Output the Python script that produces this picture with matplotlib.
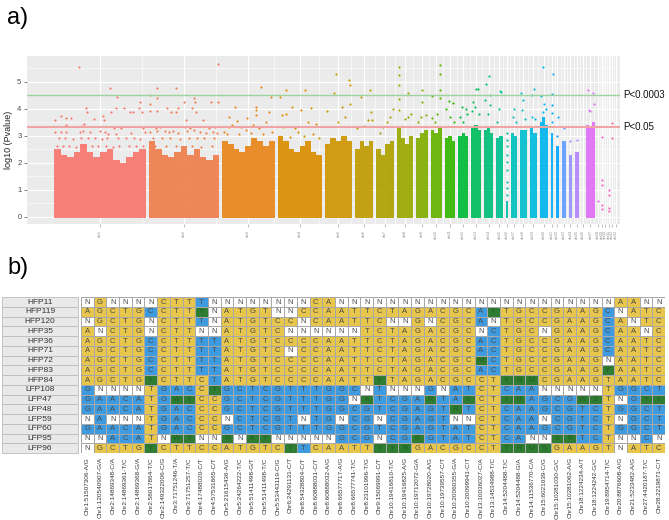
import numpy as np
import matplotlib
matplotlib.use('Agg')
import matplotlib.pyplot as plt
from matplotlib.colors import ListedColormap
from matplotlib.patches import Rectangle
from matplotlib.transforms import blended_transform_factory

plt.rcParams['font.family'] = ['Liberation Sans', 'DejaVu Sans']

# ---------------- a) Manhattan plot ----------------
chrom_names = ['chr1', 'chr2', 'chr3', 'chr4', 'chr5', 'chr6', 'chr7', 'chr8', 'chr9',
               'chr10', 'chr11', 'chr12', 'chr13', 'chr14', 'chr15', 'chr16', 'chr17',
               'chr18', 'chr19', 'chr20', 'chr21', 'chr22', 'chr23', 'chr24', 'chr25',
               'chr26', 'chr27', 'chr28', 'chr29', 'chr30', 'chr31', 'chr32', 'chr33']
# chromosome length (Mb)
chrom_len = [196, 149, 112, 94, 59, 38, 38, 34, 25, 23, 23, 21, 21, 19, 15, 4, 13,
             14, 15, 18, 4, 6, 8, 8, 8, 2, 19, 1, 1, 1, 1, 1, 1]

# top of the dense cloud of SNPs along each chromosome (-log10 p)
dense_top = [
    [2.5, 2.3, 2.2, 2.4, 2.7, 2.4, 2.2, 2.4, 2.5, 2.1, 2.0, 2.2, 2.4, 2.5],
    [2.8, 2.5, 2.3, 2.2, 2.4, 2.6, 2.3, 2.5, 2.2, 2.1, 2.3],
    [2.8, 2.7, 2.5, 2.4, 2.6, 2.9, 2.8, 2.6, 2.8],
    [3.0, 2.8, 2.5, 2.4, 2.6, 2.8, 2.4, 2.3],
    [2.7, 2.9, 2.8, 3.0, 2.8],
    [2.5, 2.8, 2.6, 2.8],
    [2.5, 2.3, 2.7, 2.8],
    [3.3, 2.9, 2.7, 3.0],
    [2.9, 3.1, 3.2],
    [3.2, 3.1, 3.3],
    [2.9, 3.0, 2.8],
    [3.0, 3.1, 3.0],
    [3.3, 3.4, 3.2],
    [3.2, 3.3, 3.1],
    [2.9, 3.0],
    [0.6],
    [3.1, 3.0],
    [3.2, 3.2],
    [3.3, 3.1],
    [3.5, 3.7, 3.4],
    [3.1],
    [2.6],
    [2.8],
    [2.3],
    [2.4],
    [],
    [3.4, 3.3, 3.5],
    [], [], [], [],
    [2.4],
    [],
]

# isolated SNPs above the dense cloud, per chromosome:
# relative position along the chromosome and -log10 p
peak_pos = [
    [0.27, 0.61, 0.68, 0.01, 0.08, 0.13, 0.18, 0.35, 0.36, 0.43, 0.53, 0.54, 0.62, 0.67,
     0.76, 0.83, 0.86, 0.92, 0.94, 0.96, 0.13, 0.30, 0.33, 0.65, 0.73, 0.97, 0.01, 0.08,
     0.13, 0.28, 0.32, 0.39, 0.50, 0.55, 0.59, 0.67, 0.84, 0.99, 0.05, 0.12, 0.21, 0.29,
     0.37, 0.45, 0.52, 0.58, 0.70, 0.78, 0.87, 0.94, 0.03, 0.10, 0.16, 0.24, 0.31, 0.41,
     0.48, 0.56, 0.64, 0.71, 0.81, 0.89, 0.97],
    [0.02, 0.11, 0.39, 0.99, 0.01, 0.02, 0.12, 0.12, 0.26, 0.32, 0.39, 0.42, 0.50, 0.53,
     0.61, 0.64, 0.66, 0.67, 0.77, 0.88, 0.99, 0.10, 0.16, 0.51, 0.59, 0.86, 0.94, 0.01,
     0.11, 0.23, 0.28, 0.35, 0.41, 0.54, 0.64, 0.73, 0.82, 0.91, 0.97, 0.05, 0.18, 0.30,
     0.44, 0.57, 0.69, 0.79, 0.93, 0.08, 0.25, 0.38, 0.62, 0.75, 0.90],
    [0.75, 0.94, 0.24, 0.65, 0.64, 0.14, 0.47, 0.65, 0.90, 0.28, 0.36, 0.03, 0.14, 0.20,
     0.59, 0.84, 0.45, 0.70, 0.10, 0.33, 0.55, 0.78, 0.95],
    [0.19, 0.62, 0.05, 0.33, 0.77, 0.54, 0.10, 0.20, 0.88, 0.12, 0.46, 0.81, 0.40, 0.70,
     0.28, 0.60, 0.93],
    [0.33, 0.40, 0.89, 0.93, 0.93, 0.63, 0.10, 0.75, 0.50],
    [0.30, 0.80, 0.85, 0.70, 0.95, 0.50, 0.10],
    [0.95, 0.40, 0.60, 0.75, 0.20],
    [0.15, 0.15, 0.15, 0.70, 0.15, 0.10, 0.70, 0.90, 0.50],
    [0.50, 0.50, 0.40, 0.85, 0.20],
    [0.85, 0.85, 0.85, 0.85, 0.10, 0.10, 0.60, 0.40],
    [0.40, 0.75, 0.10, 0.50, 0.90],
    [0.40, 0.75, 0.15, 0.90, 0.50],
    [0.45, 0.65, 0.20, 0.35, 0.10, 0.80],
    [0.55, 0.20, 0.10, 0.70, 0.65, 0.40],
    [0.55, 0.75, 0.40, 0.20],
    [0.50, 0.50, 0.50, 0.50, 0.50, 0.50, 0.50, 0.50, 0.50],
    [0.50, 0.30, 0.80],
    [0.20, 0.40, 0.30, 0.70],
    [0.60, 0.30, 0.40, 0.80],
    [0.40, 0.20, 0.55, 0.40, 0.80],
    [0.80, 0.30, 0.30, 0.30, 0.50],
    [0.60, 0.30],
    [0.50],
    [0.50],
    [0.50],
    [],
    [0.20, 0.80, 0.85, 0.35, 0.50],
    [0.50],
    [0.50, 0.50, 0.50, 0.50, 0.50],
    [],
    [0.50, 0.50, 0.50, 0.50],
    [0.50, 0.50],
    [],
]
peak_val = [
    [5.53, 4.76, 4.45, 3.58, 3.74, 3.66, 3.64, 4.01, 3.86, 3.61, 3.74, 3.58, 3.86, 4.01,
     4.01, 3.86, 3.86, 4.01, 4.23, 3.86, 3.39, 3.36, 3.42, 3.27, 3.27, 3.29, 3.12, 3.15,
     3.15, 3.15, 3.17, 3.15, 3.17, 3.15, 3.07, 3.07, 3.11, 3.15, 2.90, 2.90, 2.88, 2.90,
     2.92, 2.90, 2.88, 2.90, 2.90, 2.92, 2.90, 2.88, 2.60, 2.62, 2.60, 2.58, 2.60, 2.62,
     2.60, 2.60, 2.58, 2.60, 2.62, 2.60, 2.60],
    [4.49, 4.76, 4.77, 5.66, 4.16, 3.93, 4.38, 3.91, 4.04, 3.88, 3.88, 4.04, 4.23, 3.58,
     4.04, 4.38, 4.23, 3.88, 3.58, 4.23, 4.23, 3.29, 3.33, 3.33, 3.27, 3.27, 3.33, 3.15,
     3.17, 3.17, 3.14, 3.17, 3.11, 3.17, 3.20, 3.15, 3.11, 3.12, 3.11, 2.90, 2.92, 2.90,
     2.88, 2.90, 2.90, 2.92, 2.90, 2.60, 2.62, 2.60, 2.60, 2.58, 2.60],
    [4.80, 4.45, 4.08, 4.06, 3.94, 3.69, 3.67, 3.75, 3.87, 3.54, 3.32, 3.14, 3.32, 3.38,
     3.38, 3.50, 3.20, 3.30, 3.05, 3.05, 3.10, 3.05, 3.15],
    [4.70, 4.70, 4.43, 4.08, 4.03, 3.96, 3.75, 3.81, 3.44, 3.32, 3.14, 3.07, 3.30, 3.50,
     2.95, 3.00, 2.90],
    [4.57, 5.29, 5.07, 4.86, 4.18, 4.06, 3.90, 3.70, 3.50],
    [4.43, 4.70, 3.87, 3.59, 3.57, 3.35, 3.30],
    [4.00, 3.32, 3.50, 3.70, 3.10],
    [5.56, 5.26, 4.86, 4.58, 4.37, 3.96, 3.69, 3.81, 3.60],
    [4.70, 4.24, 3.69, 3.75, 3.50],
    [5.63, 5.30, 4.69, 4.40, 4.46, 3.64, 3.80, 3.50],
    [4.28, 4.22, 4.00, 3.70, 3.50],
    [4.07, 4.00, 3.70, 3.79, 3.50],
    [4.71, 4.71, 4.26, 4.07, 3.90, 3.80],
    [5.22, 4.93, 4.32, 4.50, 4.13, 3.80],
    [4.65, 4.60, 4.00, 3.50],
    [3.09, 2.84, 2.60, 2.29, 2.04, 1.73, 1.30, 1.06, 0.81],
    [4.00, 3.70, 3.50],
    [4.59, 4.32, 3.95, 3.60],
    [4.71, 4.50, 3.70, 3.60],
    [5.55, 4.46, 4.19, 3.89, 4.00],
    [5.28, 4.53, 4.13, 3.83, 3.50],
    [3.70, 3.00],
    [3.30],
    [2.80],
    [2.84],
    [],
    [4.69, 4.59, 4.19, 3.95, 3.90],
    [0.57],
    [2.96, 1.37, 1.18, 0.44, 0.30],
    [],
    [1.00, 0.81, 0.32, 0.20],
    [3.46, 2.90],
    [],
]

thresholds = [4.52, 3.33]
threshold_labels = ['P<0.0003', 'P<0.05']

# ---------------- b) genotype table ----------------
samples = ['HFP11', 'HFP119', 'HFP120', 'HFP35', 'HFP36', 'HFP71', 'HFP72', 'HFP83',
           'HFP84', 'LFP108', 'LFP47', 'LFP48', 'LFP59', 'LFP60', 'LFP95', 'LFP96']
snp_labels = ['Chr1:51507306-A/G', 'Chr1:120540907-G/A', 'Chr2:14869348-C/A',
              'Chr2:14869361-T/C', 'Chr2:14869368-G/A', 'Chr2:58017864-T/C',
              'Chr2:149322006-C/G', 'Chr3:71751246-T/A', 'Chr3:71751257-T/C',
              'Chr4:17488020-C/T', 'Chr4:57531865-C/T', 'Chr5:21615436-A/G',
              'Chr5:24264222-T/C', 'Chr5:51411498-G/T', 'Chr5:51411498-T/C',
              'Chr5:53443119-C/G', 'Chr6:24291131-C/T', 'Chr8:54328804-C/T',
              'Chr8:60888031-C/T', 'Chr8:60888032-A/G', 'Chr8:66577717-A/G',
              'Chr8:66577741-T/C', 'Chr8:23101996-T/G', 'Chr9:15069991-C/T',
              'Chr10:19416810-T/C', 'Chr10:19416825-A/G', 'Chr10:19712072-G/A',
              'Chr10:19728020-A/G', 'Chr10:19739557-C/T', 'Chr10:20060355-G/A',
              'Chr10:20099941-C/T', 'Chr13:10036027-C/A', 'Chr13:14534988-T/C',
              'Chr14:5204488-T/C', 'Chr14:5204488-G/A', 'Chr14:11536770-C/A',
              'Chr15:6021039-C/G', 'Chr15:10281030-G/C', 'Chr15:10281062-A/G',
              'Chr18:1224234-A/T', 'Chr18:1224242-G/C', 'Chr19:8954714-T/C',
              'Chr20:8876608-A/G', 'Chr21:5233482-A/G', 'Chr27:4420187-T/C',
              'Chr28:2219871-C/T']
genotypes = [
    'NGNNNNCTTTN' + 'NNNNNNNCANN' + 'NNNNNNNNNNN' + 'NNNNNNNNNAANN',
    'AGCTGCCTTYN' + 'ATGTNNCCAAT' + 'TCTAGACGCAY' + 'TGCCGAAGCNATC',
    'NGCTGNCTTTN' + 'ATGTCCNCAAT' + 'TCNNGNCGCAN' + 'TGCCGAAGCANTC',
    'ANCTGNCTTNN' + 'ATGTCNNNNNN' + 'TCTAGACGCNC' + 'TGCNGAAGCAANC',
    'AGCTGCCTTTT' + 'ATGTCCCCAAT' + 'TCTAGACGCAC' + 'TGCCGAAGCAATC',
    'AGCTGCCTTTT' + 'ATGTCNCCAAT' + 'TCTAGACGCAC' + 'TGCCGAAGCAATC',
    'AGCTGCCTTTT' + 'ATGTCCCCAAT' + 'TCTAGACGCMC' + 'TGCCGAAGNAATC',
    'AGCTGCCTTTT' + 'ATGTCCCCAAT' + 'TCTAGACGCAC' + 'TGCCGAAGYAATC',
    'AGCTGYCTTCT' + 'ATGTCCCCAAT' + 'TYTAGACGCCT' + 'YRMCGAAGTAATC',
    'GNNNNTGACCY' + 'GCTCGTTTGGC' + 'NTNNNGNATCT' + 'CAANNNNNTGGCT',
    'GAACATGWYCC' + 'GCTCGTTTGGN' + 'KTCGARTAYCT' + 'YRAGCGWSTNGYY',
    'GAACATGACCC' + 'GCTCGTTTGGC' + 'GTCGAGTRTCT' + 'CAAGCGTCTGGCT',
    'NANNNTGACCC' + 'NCTCGTNTGNC' + 'GNCGAGTNNCT' + 'CAANCGTCTNGCT',
    'GAACATGACCC' + 'GCTCGTTTGGC' + 'GTCGAGTATCT' + 'CAAGCGTCTGGCT',
    'NNACATNWYNN' + 'RNKYNNNNNGC' + 'GNCGRGTATCT' + 'CANNSRTCTNNCN',
    'NGCTGYCTTCC' + 'ATGTCYTCAAT' + 'TYYRGACGCCT' + 'YRMSGAAGTNATC',
]


def hue_colors(n, lum=65, chroma=100):
    # ggplot2 default discrete palette (hcl hues from 15 deg)
    h = np.deg2rad(15 + 360 * np.arange(n) / n)
    u_c, v_c = chroma * np.cos(h), chroma * np.sin(h)
    xn, yn, zn = 95.047, 100.0, 108.883
    un = 4 * xn / (xn + 15 * yn + 3 * zn)
    vn = 9 * yn / (xn + 15 * yn + 3 * zn)
    y = yn * ((lum + 16) / 116) ** 3
    u = u_c / (13 * lum) + un
    v = v_c / (13 * lum) + vn
    x = 9 * y * u / (4 * v)
    z = y * (12 - 3 * u - 20 * v) / (4 * v)
    xyz = np.stack([x, np.full_like(x, y), z]) / 100
    m = np.array([[3.2404542, -1.5371385, -0.4985314],
                  [-0.9692660, 1.8760108, 0.0415560],
                  [0.0556434, -0.2040259, 1.0572252]])
    rgb = m @ xyz
    rgb = np.where(rgb <= 0.0031308, 12.92 * rgb,
                   1.055 * np.abs(rgb) ** (1 / 2.4) - 0.055)
    return np.clip(rgb.T, 0, 1)


W, H = 669, 520
fig = plt.figure(figsize=(W / 100, H / 100), dpi=100)


def px_axes(l, t, r, b):
    return fig.add_axes([l / W, 1 - b / H, (r - l) / W, (b - t) / H])


fig.text(7 / W, 1 - 18 / H, 'a)', fontsize=17, va='center', ha='left')
fig.text(7 / W, 1 - 268 / H, 'b)', fontsize=17, va='center', ha='left')

# ---- Manhattan ----
ax = px_axes(27, 56, 620, 224)
ax.set_facecolor('#EBEBEB')
for s in ax.spines.values():
    s.set_visible(False)

gap = 6.4
lens = np.array(chrom_len, dtype=float)
offsets = np.concatenate([[0], np.cumsum(lens + gap)[:-1]])
centers = offsets + lens / 2
cols = hue_colors(len(chrom_names))

for i, top in enumerate(dense_top):
    if not top:
        continue
    edges = np.linspace(offsets[i], offsets[i] + lens[i], len(top) + 1)
    ax.fill_between(edges, -0.04, list(top) + [top[-1]], step='post',
                    color=cols[i], alpha=0.92, lw=0, zorder=2)

for i, (pp, pv) in enumerate(zip(peak_pos, peak_val)):
    if not pp:
        continue
    xs = offsets[i] + np.array(pp) * lens[i]
    ax.scatter(xs, pv, s=2.4, color=cols[i], lw=0, zorder=3)

ax.axhline(thresholds[0], color='#9ED29E', lw=1.0, zorder=4)
ax.axhline(thresholds[1], color='#F2A3A3', lw=1.4, zorder=4)
tr = blended_transform_factory(ax.transAxes, ax.transData)
for yv, lab in zip(thresholds, threshold_labels):
    ax.text(1.006, yv, lab, transform=tr, fontsize=7, va='center', ha='left',
            clip_on=False, color='#111111')

px_per_mb = 92 / chrom_len[0]
ax.set_xlim(-27 / px_per_mb, (620 - 54) / px_per_mb)
ax.set_ylim(-0.27, 5.95)
ax.set_yticks(range(6))
ax.set_yticks(np.arange(0.5, 6, 1), minor=True)
ax.set_xticks(centers)
ax.set_xticks((centers[:-1] + centers[1:]) / 2, minor=True)
ax.set_xticklabels(chrom_names, rotation=90, fontsize=2.6, color='#8A8A8A')
ax.tick_params(axis='y', labelsize=5.5, colors='#4D4D4D', length=2, width=0.5, pad=2)
ax.tick_params(axis='x', length=2, width=0.4, colors='#8A8A8A', pad=2)
ax.tick_params(which='minor', length=0)
ax.grid(True, which='major', color='white', lw=0.8)
ax.grid(True, which='minor', color='white', lw=0.4)
ax.set_axisbelow(True)
ax.set_ylabel('log10 (Pvalue)', fontsize=6.5, labelpad=3, color='#222222')

# ---- genotype table ----
tx = px_axes(2, 297, 665, 453)
ncol = len(snp_labels)
nrow = len(samples)
codes = np.zeros((nrow, ncol), dtype=int)
for r, g in enumerate(genotypes):
    for c, ch in enumerate(g):
        ref, alt = snp_labels[c][-3], snp_labels[c][-1]
        if ch == 'N':
            codes[r, c] = 0
        elif ch == ref:
            codes[r, c] = 1
        elif ch == alt:
            codes[r, c] = 2
        else:
            codes[r, c] = 3
cell_cmap = ListedColormap(['#FFFFFF', '#E8C64C', '#3E9BE0', '#2E7D32'])
tx.pcolormesh(np.arange(ncol + 1), np.arange(nrow + 1), codes, cmap=cell_cmap,
              vmin=-0.5, vmax=3.5, edgecolors='#A8A8A8', linewidth=0.5)
for r, g in enumerate(genotypes):
    for c, ch in enumerate(g):
        tcol = '#1F5E22' if codes[r, c] == 3 else '#4A4A4A'
        tx.text(c + 0.5, r + 0.53, ch, ha='center', va='center', fontsize=5.5,
                color=tcol)

cw = (665 - 81) / ncol
left = -(81 - 2) / cw
for r, name in enumerate(samples):
    tx.add_patch(Rectangle((left, r), (78 - 2) / cw, 1, facecolor='#E9E9E9',
                           edgecolor='#BBBBBB', lw=0.6, clip_on=False))
    tx.text(left + (78 - 2) / cw / 2, r + 0.53, name, ha='center', va='center',
            fontsize=6, color='#333333')

tx.set_xlim(left, ncol)
tx.set_ylim(nrow, 0)
for s in tx.spines.values():
    s.set_visible(False)
tx.set_yticks([])
tx.set_xticks(np.arange(ncol) + 0.5)
tx.set_xticklabels(snp_labels, rotation=90, fontsize=4.6, color='#333333')
tx.tick_params(axis='x', length=0, pad=3)

fig.savefig('out.png', dpi=100)
